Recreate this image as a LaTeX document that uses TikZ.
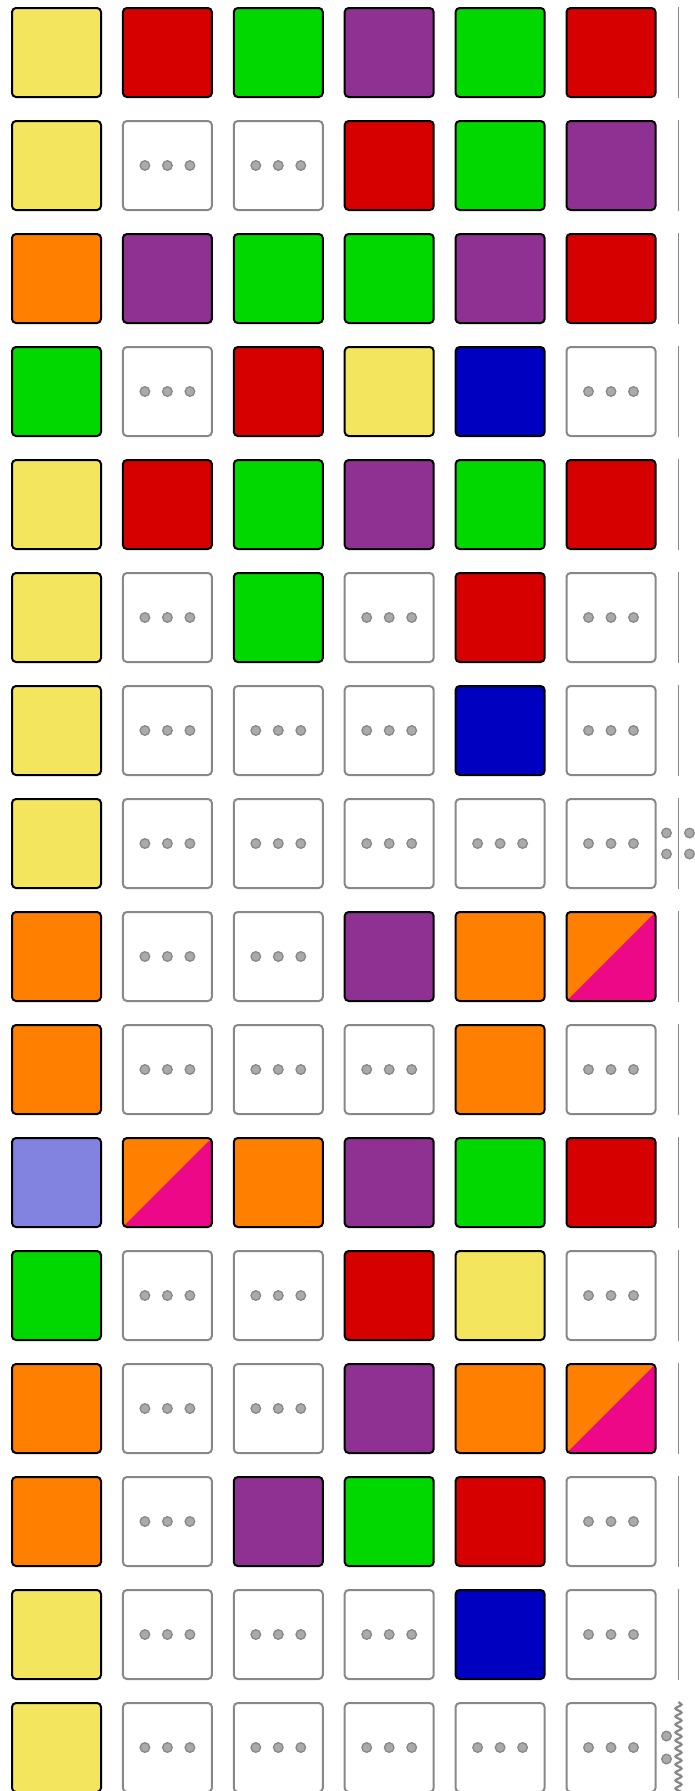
\documentclass[tikz,border=0pt]{standalone}
\usepackage{xcolor}
\usepackage{tikz}
\usetikzlibrary{decorations.pathmorphing}
\definecolor{tyel}{RGB}{243,230,94}
\definecolor{tred}{RGB}{214,0,0}
\definecolor{tgrn}{RGB}{0,216,0}
\definecolor{tpur}{RGB}{142,49,146}
\definecolor{tblu}{RGB}{0,0,192}
\definecolor{tora}{RGB}{255,128,0}
\definecolor{tpnk}{RGB}{236,8,135}
\definecolor{tlav}{RGB}{130,130,224}
\definecolor{mut}{RGB}{136,136,136}
\definecolor{dotfill}{RGB}{170,170,170}

\begin{document}
\begin{tikzpicture}[x=1pt, y=-1pt,
  sq/.style={rounded corners=4pt, minimum size=89pt, inner sep=0pt, line width=2pt, draw=black},
  sqY/.style={sq, fill=tyel}, sqR/.style={sq, fill=tred}, sqG/.style={sq, fill=tgrn},
  sqP/.style={sq, fill=tpur}, sqB/.style={sq, fill=tblu}, sqO/.style={sq, fill=tora},
  sqL/.style={sq, fill=tlav},
  sqS/.style={sq, fill=tora, path picture={
    \fill[tpnk] (path picture bounding box.south west) -- (path picture bounding box.north east)
      -- (path picture bounding box.south east) -- cycle;}},
  dot/.style={fill=dotfill, draw=mut, line width=1.3pt},
  sqD/.style={sq, draw=mut, fill=white, path picture={
    \foreach \d in {-22.5,0,22.5}
      \filldraw[dot] ([xshift=\d pt]path picture bounding box.center) circle (4.8pt);}},
  rim/.style={mut, line width=1.6pt}]
  \useasboundingbox (0,0) rectangle (695,1791);
  \clip (0,0) rectangle (695,1791);
  % grid of cells, one row per list
  \foreach \row [count=\r] in {{Y,R,G,P,G,R},{Y,D,D,R,G,P},{O,P,G,G,P,R},{G,D,R,Y,B,D},
      {Y,R,G,P,G,R},{Y,D,G,D,R,D},{Y,D,D,D,B,D},{Y,D,D,D,D,D},
      {O,D,D,P,O,S},{O,D,D,D,O,D},{L,S,O,P,G,R},{G,D,D,R,Y,D},
      {O,D,D,P,O,S},{O,D,P,G,R,D},{Y,D,D,D,B,D},{Y,D,D,D,D,D}} {
    \foreach \k [count=\c] in \row
      \node[sq\k] (s-\r-\c) at ({56.5+110.9*(\c-1)}, {52.5+113*(\r-1)}) {};
  }
  % right-hand edge markers
  \foreach \r in {1,...,15}
    \draw[rim] ([xshift=22pt]s-\r-6.north east) -- ([xshift=22pt]s-\r-6.south east);
  \foreach \dx in {10,33} \foreach \dy in {-10.5,10.5}
    \filldraw[dot] ([shift={(\dx pt,\dy pt)}]s-8-6.east) circle (4.8pt);
  % cut row at the bottom
  \foreach \dy in {-11.5,11.5}
    \filldraw[dot] ([shift={(10pt,\dy pt)}]s-16-6.east) circle (4.8pt);
  \draw[rim, line width=2.2pt, decorate, decoration={snake, amplitude=3pt, segment length=8pt}]
    ([xshift=22pt]s-16-6.north east) -- ++(0,110);
\end{tikzpicture}
\end{document}
